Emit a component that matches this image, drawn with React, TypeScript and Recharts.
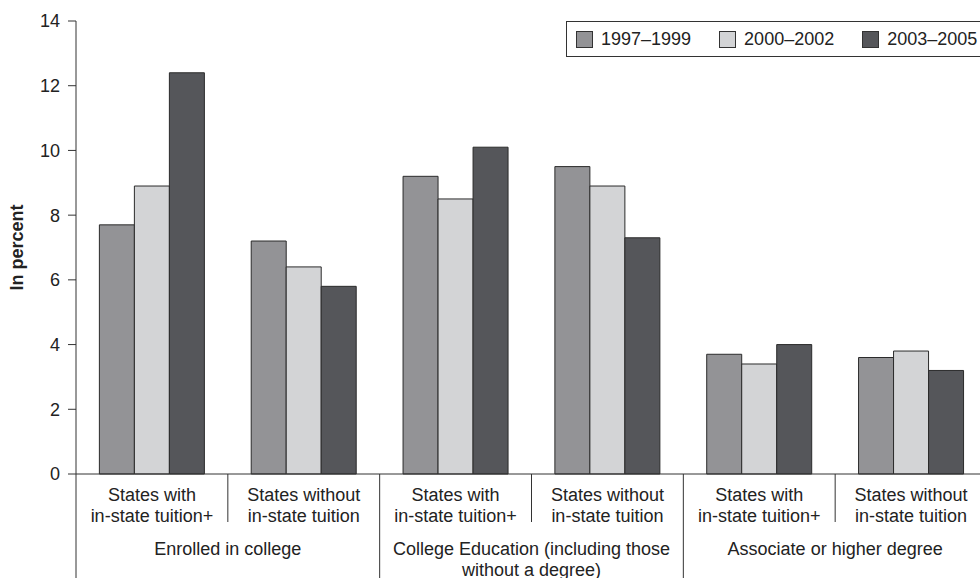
import { Bar, BarChart, Label, XAxis, YAxis } from "recharts";

const categories = ["c1", "c2", "c3", "c4", "c5", "c6"];
const labelLine1 = [
  "States with",
  "States without",
  "States with",
  "States without",
  "States with",
  "States without",
];
const labelLine2 = [
  "in-state tuition+",
  "in-state tuition",
  "in-state tuition+",
  "in-state tuition",
  "in-state tuition+",
  "in-state tuition",
];
const groupLabels = [
  ["Enrolled in college"],
  ["College Education (including those", "without a degree)"],
  ["Associate or higher degree"],
];

const period1 = [7.7, 7.2, 9.2, 9.5, 3.7, 3.6];
const period2 = [8.9, 6.4, 8.5, 8.9, 3.4, 3.8];
const period3 = [12.4, 5.8, 10.1, 7.3, 4.0, 3.2];

const yTicks = [0, 2, 4, 6, 8, 10, 12, 14];

const series = [
  { key: "p1", name: "1997–1999", color: "#939396" },
  { key: "p2", name: "2000–2002", color: "#d3d4d6" },
  { key: "p3", name: "2003–2005", color: "#55565a" },
];

const data = categories.map((c, i) => ({
  cat: c,
  p1: period1[i],
  p2: period2[i],
  p3: period3[i],
}));

const FONT = "'Liberation Sans', Arial, Helvetica, sans-serif";
const INK = "#222";
const LINE = "#333";

const CHART_W = 987;
const CHART_H = 578;
const Y_AXIS_W = 76;
const X_AXIS_H = 104;
const TOP = 21;
const AXIS_Y = CHART_H - X_AXIS_H;
const BAND = (CHART_W - Y_AXIS_W) / categories.length;

function CategoryTick(props: any) {
  const { x, payload } = props;
  const i = categories.indexOf(payload.value);
  const half = BAND / 2;
  const group = i % 2 === 0 ? groupLabels[i / 2] : null;
  return (
    <g>
      <text x={x} y={AXIS_Y + 27} textAnchor="middle" fontSize={18} fill={INK} fontFamily={FONT}>
        {labelLine1[i]}
      </text>
      <text x={x} y={AXIS_Y + 48} textAnchor="middle" fontSize={18} fill={INK} fontFamily={FONT}>
        {labelLine2[i]}
      </text>
      <line
        x1={x + half}
        x2={x + half}
        y1={AXIS_Y}
        y2={i % 2 === 1 ? CHART_H : AXIS_Y + 48}
        stroke={LINE}
        strokeWidth={1}
      />
      {i === 0 && (
        <line x1={x - half} x2={x - half} y1={AXIS_Y} y2={CHART_H} stroke={LINE} strokeWidth={1} />
      )}
      {group &&
        group.map((t, k) => (
          <text
            key={k}
            x={x + half}
            y={AXIS_Y + 81 + k * 21}
            textAnchor="middle"
            fontSize={18}
            fill={INK}
            fontFamily={FONT}
          >
            {t}
          </text>
        ))}
    </g>
  );
}

function LegendBox() {
  return (
    <div
      style={{
        position: "absolute",
        left: 566,
        top: 21,
        width: 430,
        height: 36,
        border: `1px solid ${LINE}`,
        display: "flex",
        alignItems: "center",
        paddingLeft: 9,
        boxSizing: "border-box",
        fontFamily: FONT,
        fontSize: 18,
        color: INK,
        whiteSpace: "nowrap",
      }}
    >
      {series.map((s) => (
        <div
          key={s.key}
          style={{ display: "flex", alignItems: "center", marginRight: 28, flexShrink: 0 }}
        >
          <span
            style={{
              display: "inline-block",
              width: 15,
              height: 15,
              background: s.color,
              border: `1px solid ${LINE}`,
              marginRight: 8,
            }}
          />
          <span>{s.name}</span>
        </div>
      ))}
    </div>
  );
}

export default function App() {
  return (
    <div
      style={{
        position: "absolute",
        left: 0,
        top: 0,
        width: 980,
        height: 578,
        overflow: "hidden",
        background: "#fff",
        fontFamily: FONT,
      }}
    >
      <BarChart
        width={CHART_W}
        height={CHART_H}
        data={data}
        margin={{ top: TOP, right: 0, bottom: 0, left: 0 }}
        barCategoryGap="15.4%"
        barGap={0}
      >
        <XAxis
          dataKey="cat"
          height={X_AXIS_H}
          interval={0}
          tickLine={false}
          axisLine={{ stroke: LINE }}
          tick={<CategoryTick />}
        />
        <YAxis
          width={Y_AXIS_W}
          domain={[0, 14]}
          ticks={yTicks}
          tickSize={8}
          tickMargin={8}
          axisLine={{ stroke: LINE }}
          tickLine={{ stroke: LINE }}
          tick={{ fontSize: 18, fill: INK, fontFamily: FONT }}
        >
          <Label
            content={(p: any) => {
              const vb = p.viewBox;
              const cx = 17;
              const cy = vb.y + vb.height / 2;
              return (
                <text
                  x={cx}
                  y={cy}
                  transform={`rotate(-90 ${cx} ${cy})`}
                  textAnchor="middle"
                  dominantBaseline="central"
                  fontSize={18}
                  fontWeight="bold"
                  fill={INK}
                  fontFamily={FONT}
                >
                  In percent
                </text>
              );
            }}
          />
        </YAxis>
        {series.map((s) => (
          <Bar
            key={s.key}
            dataKey={s.key}
            name={s.name}
            fill={s.color}
            stroke="#2b2b2b"
            strokeWidth={1}
            isAnimationActive={false}
          />
        ))}
      </BarChart>
      <LegendBox />
    </div>
  );
}
